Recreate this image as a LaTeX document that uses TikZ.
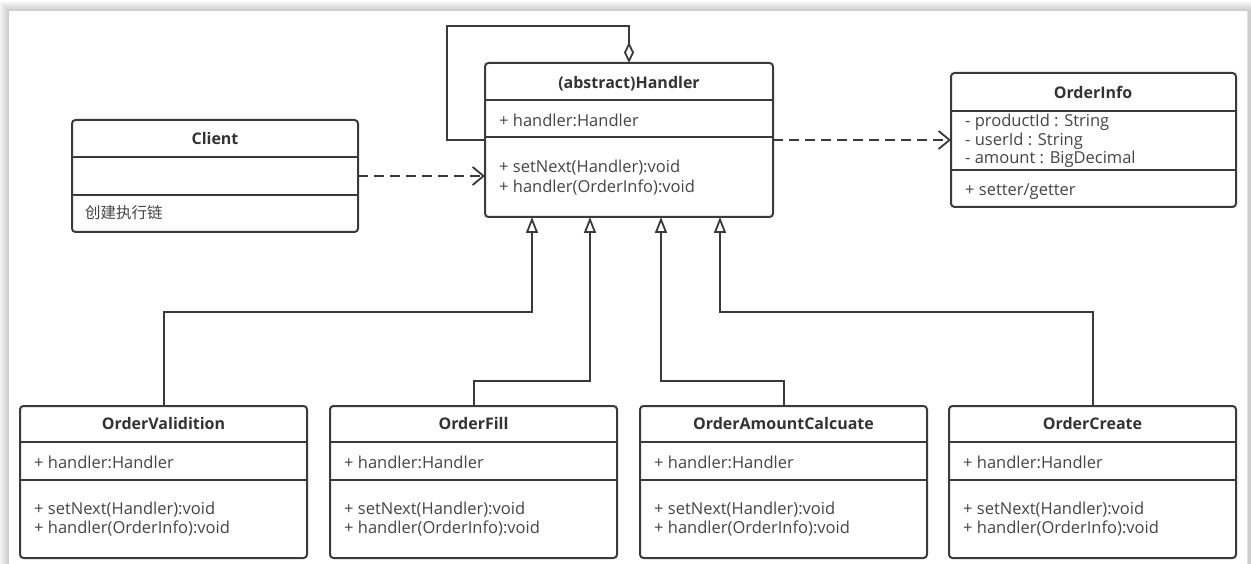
\documentclass[tikz,border=0pt]{standalone}
\usepackage{fontspec}
\setmainfont{Open Sans}
\newfontfamily\cjkfont{Noto Sans CJK SC}
\usetikzlibrary{arrows.meta}
\definecolor{linec}{HTML}{3A3A3A}
\definecolor{textc}{HTML}{454545}
\definecolor{titlec}{HTML}{333333}
\begin{document}
\begin{tikzpicture}[x=1pt,y=-1pt,
  classbox/.style={draw=linec, line width=2pt, rounded corners=3.5pt, fill=white,
    inner sep=0pt, outer sep=0pt, anchor=north west},
  sepline/.style={draw=linec, line width=2pt},
  ctitle/.style={font=\fontsize{16}{18}\selectfont\bfseries, text=titlec, inner sep=0pt, anchor=mid},
  member/.style={font=\fontsize{16.5}{18}\selectfont, text=textc, inner sep=0pt, anchor=mid west},
  inherit/.style={draw=linec, line width=2pt, -{Triangle[open, length=16pt, width=12pt, line width=1.8pt]}},
  aggr/.style={draw=linec, line width=2pt, -{Diamond[open, length=21pt, width=10pt, line width=1.8pt]}},
  dep/.style={draw=linec, line width=2pt, dash pattern=on 10pt off 6pt,
    -{Straight Barb[length=11pt, width=18pt, line width=1.8pt]}},
]
\useasboundingbox (0,0) rectangle (1251,564);

% page frame with a soft drop shadow
\fill[white] (0,0) rectangle (1251,564);
\foreach \i in {1,...,10}
  \fill[black, opacity=0.018] (9-\i,11-\i) rectangle (1262,600);
\fill[white] (9,11) rectangle (1247,600);
\draw[black!12, line width=0.8pt] (1247.5,11) -- (1247.5,600);

% ---------- Handler ----------
\node[classbox, minimum width=288pt, minimum height=154pt] (handler) at (485,63) {};
\draw[sepline] ([yshift=-37pt]handler.north west) -- ([yshift=-37pt]handler.north east);
\draw[sepline] ([yshift=-74pt]handler.north west) -- ([yshift=-74pt]handler.north east);
\node[ctitle] (handlerT) at (629,86) {(abstract)Handler};
\node[member] (handlerA) at (499,124) {+ handler:Handler};
\node[member] (handlerM1) at (499,170) {+ setNext(Handler):void};
\node[member] (handlerM2) at (499,190) {+ handler(OrderInfo):void};

% ---------- Client ----------
\node[classbox, minimum width=286pt, minimum height=112pt] (client) at (72,120) {};
\draw[sepline] ([yshift=-37pt]client.north west) -- ([yshift=-37pt]client.north east);
\draw[sepline] ([yshift=-75pt]client.north west) -- ([yshift=-75pt]client.north east);
\node[ctitle] (clientT) at (215,142) {Client};
\node[member, font=\cjkfont\fontsize{15.5}{18}\selectfont] (clientM) at (85,216) {创建执行链};

% ---------- OrderInfo ----------
\node[classbox, minimum width=285pt, minimum height=134pt] (info) at (951,73) {};
\draw[sepline] ([yshift=-38pt]info.north west) -- ([yshift=-38pt]info.north east);
\draw[sepline] ([yshift=-97pt]info.north west) -- ([yshift=-97pt]info.north east);
\node[ctitle] (infoT) at (1093,96) {OrderInfo};
\node[member] (infoA1) at (965,124) {- productId : String};
\node[member] (infoA2) at (965,143) {- userId : String};
\node[member] (infoA3) at (965,161) {- amount : BigDecimal};
\node[member] (infoM) at (965,193) {+ setter/getter};

% ---------- concrete handlers ----------
\foreach \nm/\lab/\xl in {ov/OrderValidition/20, of/OrderFill/330,
                          oa/OrderAmountCalcuate/640, oc/OrderCreate/949} {
  \node[classbox, minimum width=287pt, minimum height=152pt] (\nm) at (\xl,406) {};
  \draw[sepline] ([yshift=-36pt]\nm.north west) -- ([yshift=-36pt]\nm.north east);
  \draw[sepline] ([yshift=-74pt]\nm.north west) -- ([yshift=-74pt]\nm.north east);
  \node[ctitle] (\nm T) at ([yshift=-21pt]\nm.north) {\lab};
  \node[member] (\nm A) at ([xshift=14pt,yshift=-60pt]\nm.north west) {+ handler:Handler};
  \node[member] (\nm M1) at ([xshift=14pt,yshift=-106pt]\nm.north west) {+ setNext(Handler):void};
  \node[member] (\nm M2) at ([xshift=14pt,yshift=-125pt]\nm.north west) {+ handler(OrderInfo):void};
}

% ---------- relations ----------
\draw[inherit] (ov.north) -- ++(0,-94) -| ([xshift=47pt]handler.south west);
\draw[inherit] (of.north) -- ++(0,-25) -| ([xshift=105pt]handler.south west);
\draw[inherit] (oa.north) -- ++(0,-25) -| ([xshift=176pt]handler.south west);
\draw[inherit] (oc.north) -- ++(0,-94) -| ([xshift=235pt]handler.south west);

\draw[aggr] ([yshift=-77pt]handler.north west) -| ([xshift=-38pt,yshift=37pt]handler.north west)
  -| (handler.north);

\draw[dep] (client.east) -- (client.east -| handler.west);
\draw[dep] (handler.east) -- (info.west);
\end{tikzpicture}
\end{document}
